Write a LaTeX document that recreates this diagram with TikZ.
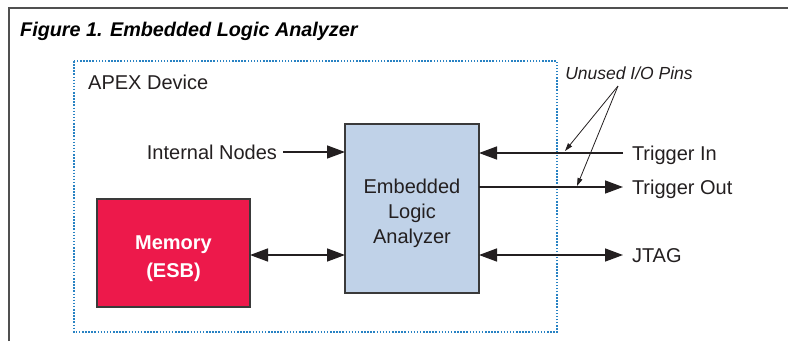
\documentclass[tikz,border=0pt]{standalone}
\usepackage{fontspec}
\setmainfont{Liberation Sans}
\usetikzlibrary{arrows.meta,calc}
\definecolor{inkdark}{RGB}{35,31,32}
\definecolor{framegray}{RGB}{80,80,80}
\definecolor{devblue}{RGB}{40,130,195}
\definecolor{memred}{RGB}{237,25,75}
\definecolor{elablue}{RGB}{192,210,232}
\definecolor{boxedge}{RGB}{58,58,58}
\tikzset{
  bodyfont/.style={font=\fontsize{20}{25}\selectfont, text=inkdark},
  caplabel/.style={bodyfont, inner ysep=0pt, text height=14.3pt, text depth=0pt, outer sep=0pt},
  blockbox/.style={draw=boxedge, line width=1.5pt, inner sep=0pt, outer sep=0pt},
  bigarrow/.style={draw=inkdark, line width=1.5pt, -{Triangle[length=18pt,width=13pt]}},
  bigdouble/.style={draw=inkdark, line width=1.5pt, {Triangle[length=18pt,width=13pt]}-{Triangle[length=18pt,width=13pt]}},
  pinarrow/.style={draw=inkdark, line width=0.8pt, -{Triangle[length=8pt,width=5pt]}},
}
\begin{document}
\begin{tikzpicture}[x=1pt,y=-1pt]
\useasboundingbox (0,0) rectangle (788,341);

% open frame and heading
\draw[framegray, line width=2pt] (9,341) -- (9,7.5) -- (788,7.5);
\node[anchor=base west, inner sep=0pt, font=\fontsize{19.8}{22}\selectfont\bfseries\itshape, text=black]
  (title) at (20,36) {Figure 1. Embedded Logic Analyzer};

% device boundary
\draw[devblue, line width=1.5pt, dash pattern=on 1.5pt off 1.6pt] (74,61) rectangle (557,332);
\node[bodyfont, anchor=base west, inner sep=0pt] (apex) at (88,89) {APEX Device};

% blocks
\node[blockbox, fill=elablue, minimum width=134pt, minimum height=169pt] (ela) at (412,208.5) {};
\node[bodyfont, align=center, inner sep=0pt] (elatext) at (412,213) {Embedded\\Logic\\Analyzer};
\node[blockbox, fill=memred, minimum width=153pt, minimum height=108pt] (mem) at (173.5,253) {};
\node[align=center, inner sep=0pt, font=\fontsize{20}{28}\selectfont\bfseries, text=white] (memtext) at (173.5,259) {Memory\\(ESB)};

% signal labels
\node[caplabel, anchor=east, inner xsep=6pt] (innodes) at (283,152) {Internal Nodes};
\node[caplabel, anchor=west, inner xsep=9pt] (trigin) at (623,153) {Trigger In};
\node[caplabel, anchor=west, inner xsep=9pt] (trigout) at (623,187) {Trigger Out};
\node[caplabel, anchor=west, inner xsep=9pt] (jtag) at (623,255) {JTAG};

% connections
\draw[bigarrow] (innodes.east) -- (innodes.east -| ela.west);
\draw[bigarrow] (trigin.west) -- (trigin.west -| ela.east);
\draw[bigarrow] (trigout.west -| ela.east) -- (trigout.west);
\draw[bigdouble] (jtag.west -| mem.east) -- (jtag.west -| ela.west);
\draw[bigdouble] (jtag.west -| ela.east) -- (jtag.west);

% unused pin callout
\node[font=\fontsize{17.5}{20}\selectfont\itshape, text=inkdark, inner sep=0pt] (pins) at (629,73) {Unused I/O Pins};
\coordinate (pinsfoot) at (618,86);
\coordinate (pinin) at (565,151);
\coordinate (pinout) at (577,186);
\draw[pinarrow] (pinsfoot) -- (pinin);
\draw[pinarrow] (pinsfoot) -- (pinout);
\end{tikzpicture}
\end{document}
